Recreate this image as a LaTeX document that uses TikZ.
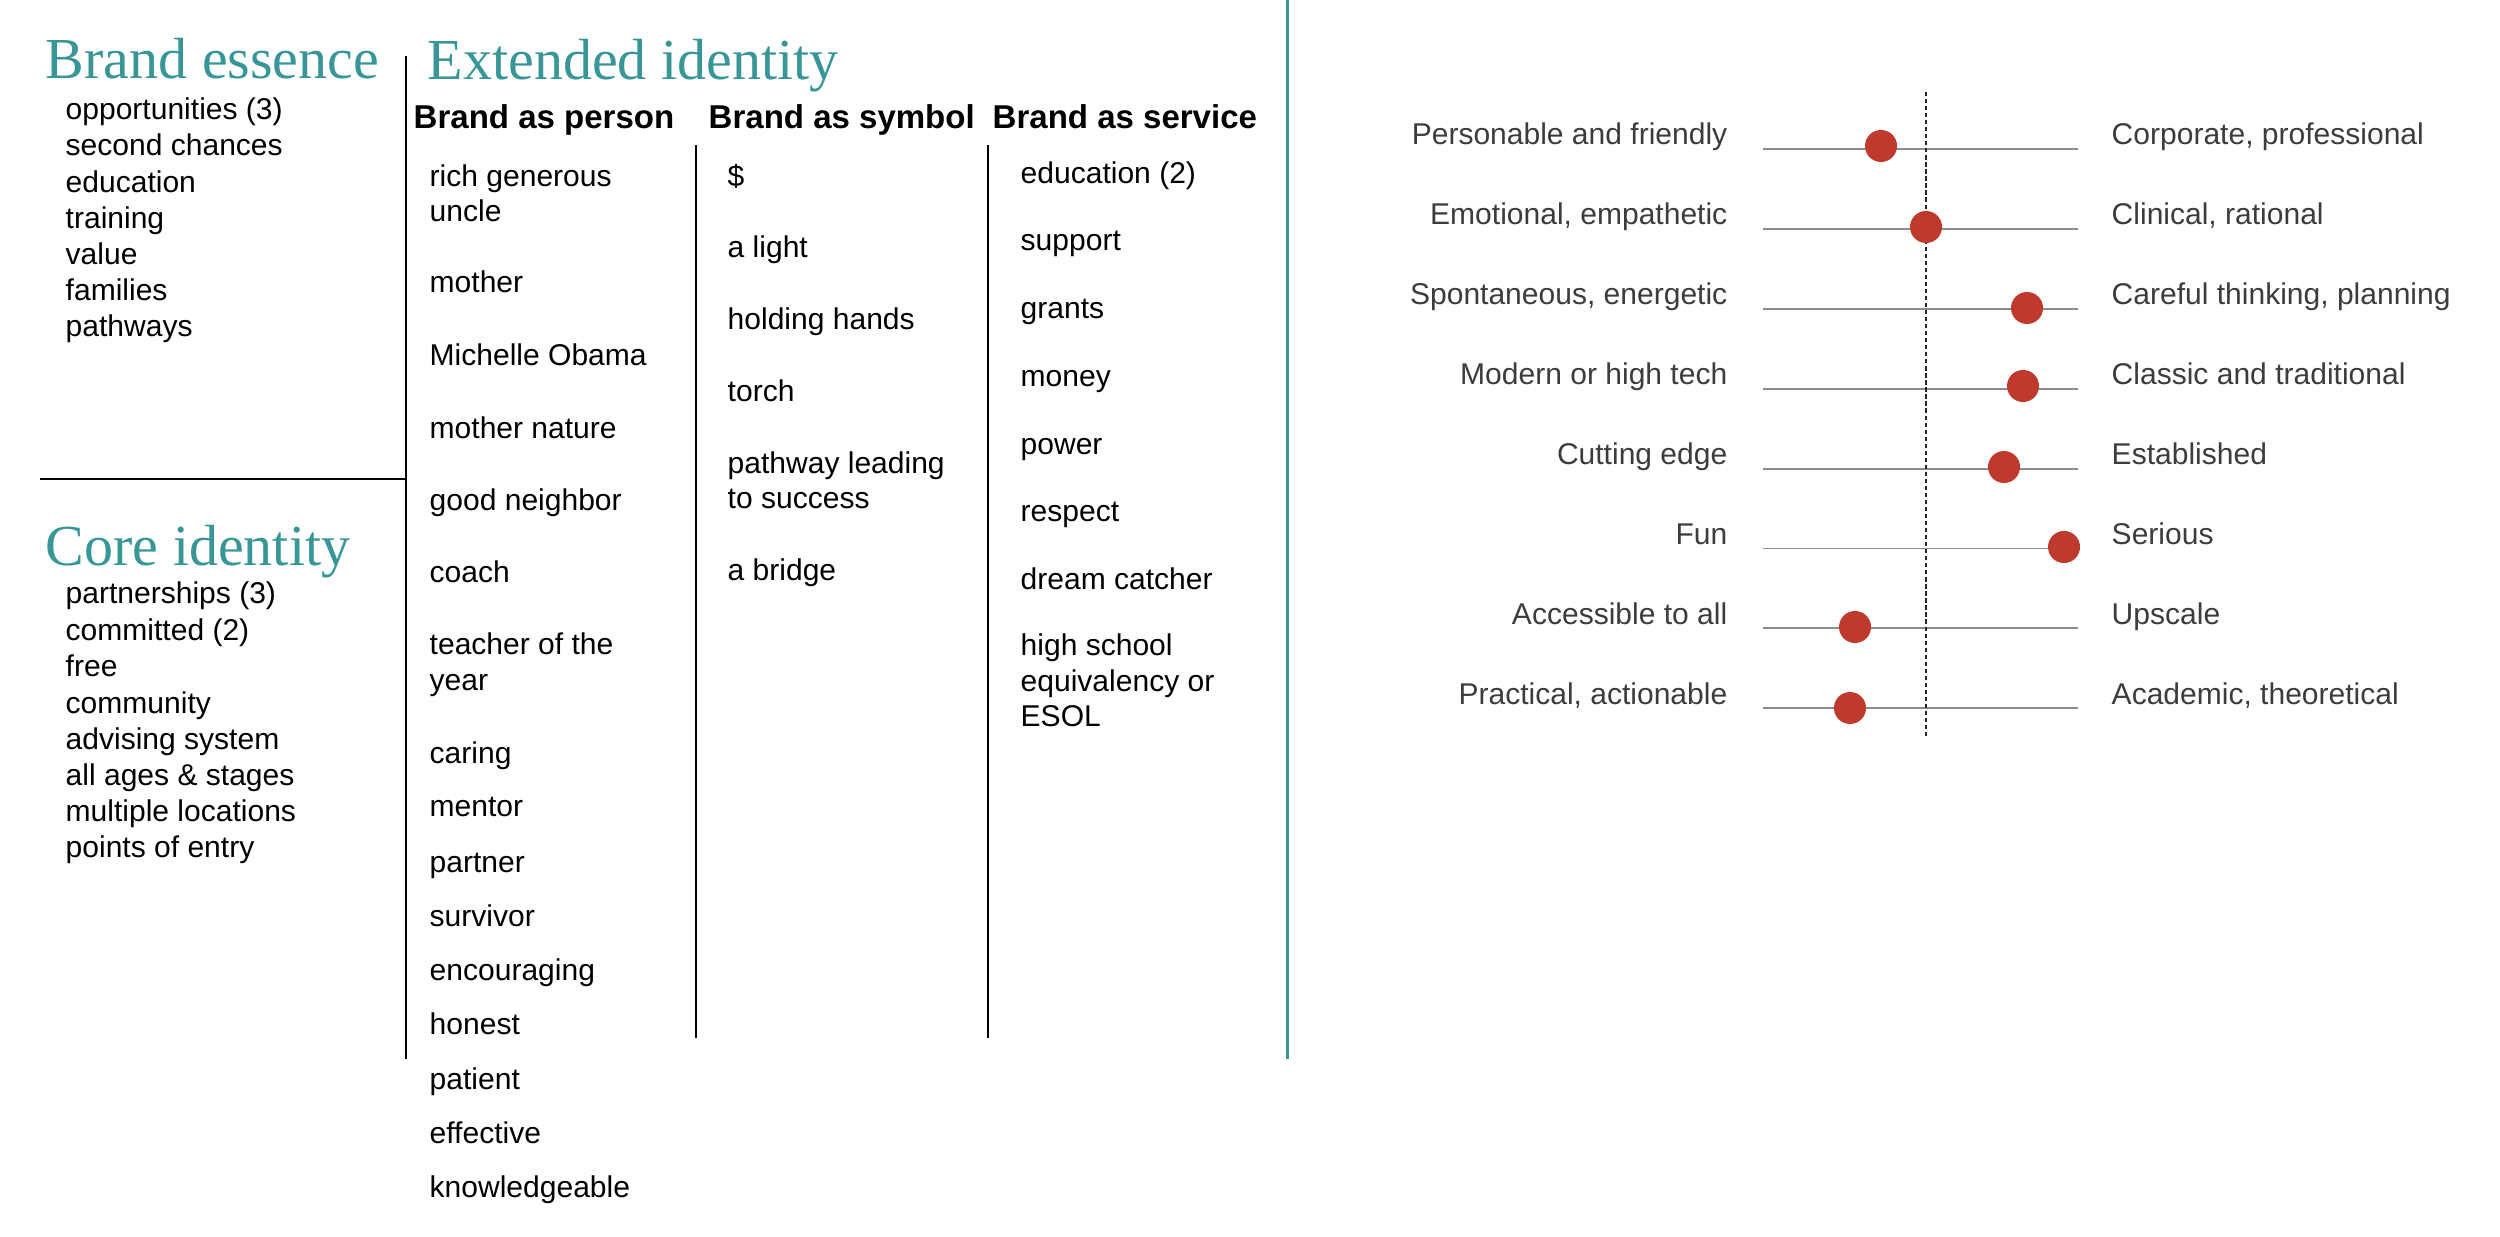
\documentclass[tikz,border=0pt]{standalone}
\usepackage{fontspec}
\setmainfont{Liberation Sans}
\newfontfamily\titlefont{Liberation Serif}
\definecolor{brandteal}{RGB}{56,150,152}
\definecolor{dotred}{RGB}{190,58,45}
\definecolor{scalegrey}{RGB}{140,140,140}
\definecolor{labelgrey}{RGB}{60,60,60}
\begin{document}
\begin{tikzpicture}[x=0.01cm,y=-0.01cm,
  title/.style={font=\titlefont\fontsize{16.5}{18}\selectfont, text=brandteal, anchor=base west, inner sep=0},
  item/.style={font=\fontsize{8.54}{10}\selectfont, anchor=base west, inner sep=0},
  head/.style={font=\bfseries\fontsize{9.39}{11}\selectfont, anchor=base west, inner sep=0},
  blackrule/.style={line width=0.72pt, black},
  tealrule/.style={line width=0.85pt, brandteal},
  scaleline/.style={line width=0.55pt, scalegrey},
  midline/.style={line width=0.4pt, black!85, dash pattern=on 1.2pt off 0.8pt},
  leftlab/.style={font=\fontsize{8.54}{10}\selectfont, text=labelgrey, anchor=base east, inner sep=0},
  rightlab/.style={font=\fontsize{8.54}{10}\selectfont, text=labelgrey, anchor=base west, inner sep=0},
  dot/.style={circle, fill=dotred, inner sep=0, minimum size=0.32cm}
]
\useasboundingbox (0,0) rectangle (2500,1237);

% titles
\node[title] (essence) at (45,79) {Brand essence};
\node[title] (extended) at (427,80) {Extended identity};
\node[title] (core) at (45,566) {Core identity};

% rules
\coordinate (v1t) at (406,56);   \coordinate (v1b) at (406,1059);
\coordinate (h1l) at (40,479);   \coordinate (h1r) at (406,479);
\coordinate (v2t) at (696,145);  \coordinate (v2b) at (696,1038);
\coordinate (v3t) at (988,145);  \coordinate (v3b) at (988,1038);
\coordinate (v4t) at (1287,0);   \coordinate (v4b) at (1287,1059);
\draw[blackrule] (v1t) -- (v1b);
\draw[blackrule] (h1l) -- (h1r);
\draw[blackrule] (v2t) -- (v2b);
\draw[blackrule] (v3t) -- (v3b);
\draw[tealrule] (v4t) -- (v4b);

% brand essence items
\foreach \t/\y [count=\i] in {{opportunities (3)}/120, {second chances}/156, education/193, training/229, value/265, families/301, pathways/337}
  \node[item] (e\i) at (65,\y) {\t};

% core identity items
\foreach \t/\y [count=\i] in {{partnerships (3)}/604, {committed (2)}/641, free/677, community/713, {advising system}/749, {all ages \& stages}/785, {multiple locations}/821, {points of entry}/857}
  \node[item] (c\i) at (65,\y) {\t};

% column headers
\node[head] (hperson) at (413,129) {Brand as person};
\node[head] (hsymbol) at (708,129) {Brand as symbol};
\node[head] (hservice) at (992,129) {Brand as service};

% brand as person
\foreach \t/\y [count=\i] in {{rich generous}/187, uncle/222, mother/293, {Michelle Obama}/366, {mother nature}/439, {good neighbor}/511, coach/583, {teacher of the}/655, year/691, caring/763, mentor/817, partner/872, survivor/926, encouraging/980, honest/1034, patient/1089, effective/1143, knowledgeable/1197}
  \node[item] (p\i) at (429,\y) {\t};

% brand as symbol
\foreach \t/\y [count=\i] in {\$/187, {a light}/258, {holding hands}/330, torch/402, {pathway leading}/474, {to success}/509, {a bridge}/581}
  \node[item] (s\i) at (727,\y) {\t};

% brand as service
\foreach \t/\y [count=\i] in {{education (2)}/184, support/251, grants/319, money/387, power/455, respect/522, {dream catcher}/590, {high school}/656, {equivalency or}/692, ESOL/727}
  \node[item] (v\i) at (1020,\y) {\t};

% attribute scales
\coordinate (midtop) at (1926,92);
\coordinate (midbot) at (1926,737);
\foreach \l/\r/\dx/\dy [count=\i] in {
  {Personable and friendly}/{Corporate, professional}/1881/146,
  {Emotional, empathetic}/{Clinical, rational}/1926/227,
  {Spontaneous, energetic}/{Careful thinking, planning}/2027/308,
  {Modern or high tech}/{Classic and traditional}/2023/386,
  {Cutting edge}/{Established}/2004/467,
  {Fun}/{Serious}/2064/547,
  {Accessible to all}/{Upscale}/1855/627,
  {Practical, actionable}/{Academic, theoretical}/1850/708}
{
  \pgfmathsetmacro{\ly}{149+79.9*(\i-1)}
  \pgfmathsetmacro{\ty}{\ly-4}
  \coordinate (sl\i) at (1763,\ly);
  \coordinate (sr\i) at (2078,\ly);
  \draw[scaleline] (sl\i) -- (sr\i);
  \node[leftlab] (ll\i) at (1728,\ty) {\l};
  \node[rightlab] (rl\i) at (2111,\ty) {\r};
}
\draw[midline] (midtop) -- (midbot);
\foreach \dx/\dy [count=\i] in {1881/146, 1926/227, 2027/308, 2023/386, 2004/467, 2064/547, 1855/627, 1850/708}
  \node[dot] (d\i) at (\dx,\dy) {};
\end{tikzpicture}
\end{document}
